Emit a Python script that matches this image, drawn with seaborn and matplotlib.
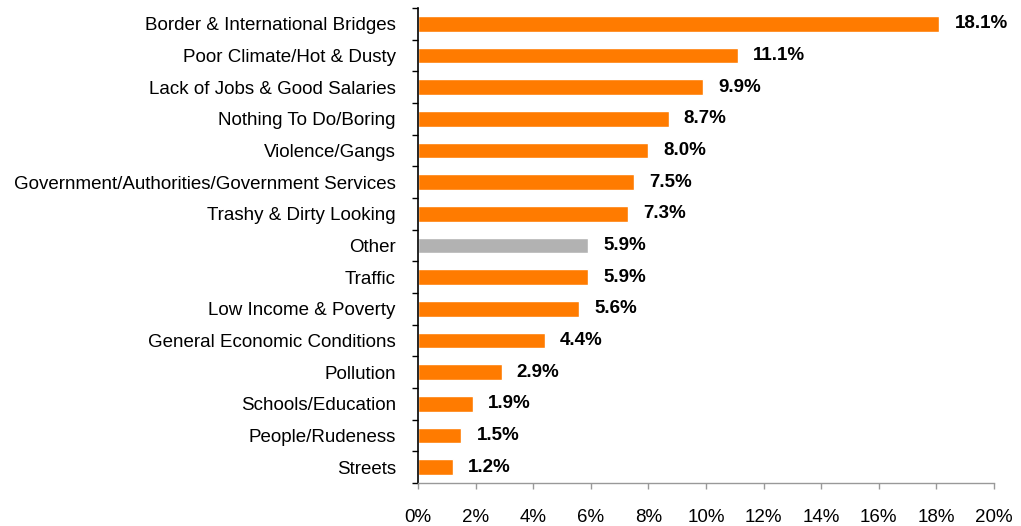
import pandas as pd
import matplotlib
matplotlib.use("Agg")
import matplotlib.pyplot as plt
from matplotlib.ticker import MultipleLocator, FixedLocator
import seaborn as sns

# --- data ---
categories = [
    "Border & International Bridges",
    "Poor Climate/Hot & Dusty",
    "Lack of Jobs & Good Salaries",
    "Nothing To Do/Boring",
    "Violence/Gangs",
    "Government/Authorities/Government Services",
    "Trashy & Dirty Looking",
    "Other",
    "Traffic",
    "Low Income & Poverty",
    "General Economic Conditions",
    "Pollution",
    "Schools/Education",
    "People/Rudeness",
    "Streets",
]
values = [18.1, 11.1, 9.9, 8.7, 8.0, 7.5, 7.3, 5.9, 5.9, 5.6, 4.4, 2.9, 1.9, 1.5, 1.2]

ORANGE = "#FF7B00"
GRAY = "#B2B2B2"
colors = [GRAY if c == "Other" else ORANGE for c in categories]

df = pd.DataFrame({"category": categories, "value": values})

sns.set_style("white")
plt.rcParams["font.family"] = ["Liberation Sans", "DejaVu Sans"]
plt.rcParams["text.color"] = "black"
plt.rcParams["xtick.color"] = "black"
plt.rcParams["ytick.color"] = "black"

FS = 13.5

fig = plt.figure(figsize=(10.21, 5.26), dpi=100)
ax = fig.add_axes([0.4094, 0.0817, 0.5642, 0.9031])

sns.barplot(data=df, x="value", y="category", hue="category", palette=colors,
            legend=False, width=0.5, saturation=1, ax=ax)

# value labels
for i, v in enumerate(values):
    ax.annotate(f"{v:.1f}%", xy=(v, i), xytext=(11, 0), textcoords="offset points",
                va="center", ha="left", fontsize=FS, fontweight="bold", color="black")

ax.set_xlim(0, 20)
ax.set_ylim(len(categories) - 0.5, -0.5)
ax.xaxis.set_major_locator(MultipleLocator(2))
ax.set_xticklabels([f"{int(t)}%" for t in ax.get_xticks()])
ax.set_xlabel("")
ax.set_ylabel("")

# y ticks between categories
ax.yaxis.set_minor_locator(FixedLocator([i - 0.5 for i in range(len(categories) + 1)]))
ax.tick_params(axis="y", which="major", length=0, labelsize=FS, pad=16, labelcolor="black")
ax.tick_params(axis="y", which="minor", length=4, width=1, color="black", direction="out", left=True)
ax.tick_params(axis="x", which="major", length=4, width=1, color="#999999", direction="out",
               bottom=True, labelsize=FS, pad=15, labelcolor="black")

for s in ["top", "right"]:
    ax.spines[s].set_visible(False)
ax.spines["left"].set_color("black")
ax.spines["left"].set_linewidth(1.2)
ax.spines["bottom"].set_color("#999999")
ax.spines["bottom"].set_linewidth(1)

fig.savefig("out.png", dpi=100)
